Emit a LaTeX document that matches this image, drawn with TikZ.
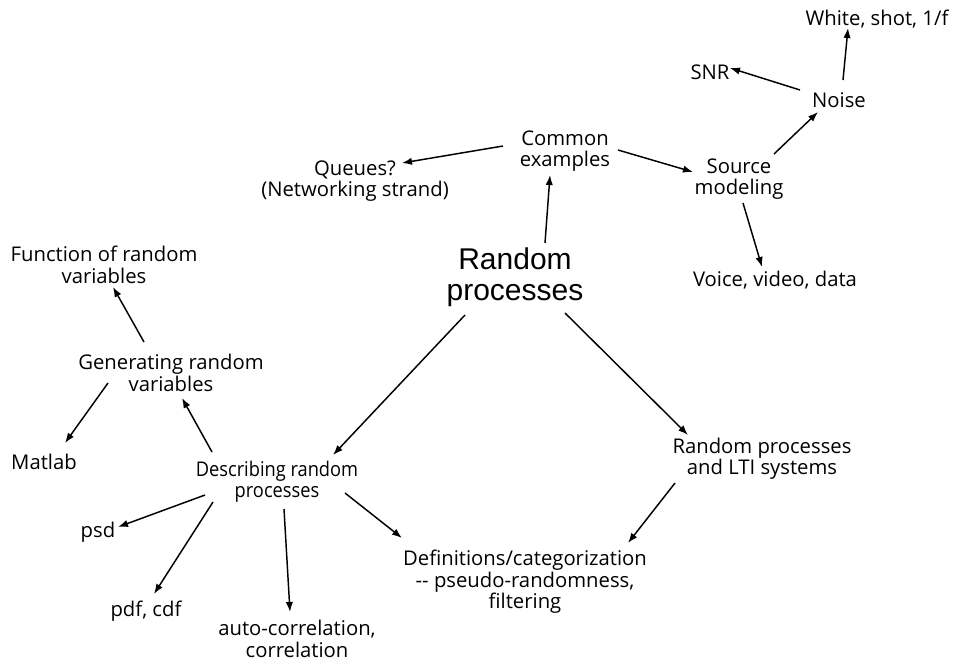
\documentclass[tikz,border=0pt]{standalone}
\usepackage{fontspec}
\setmainfont{Open Sans}
\newfontfamily\titlefont{Liberation Sans}
\newfontfamily\narrowfont[FakeStretch=0.9]{Open Sans}
\usetikzlibrary{arrows.meta}
\begin{document}
\begin{tikzpicture}[x=0.75pt,y=-0.75pt,
  topic/.style={inner sep=0pt,align=center,font=\fontsize{15.2}{16}\selectfont},
  narrowtopic/.style={inner sep=0pt,align=center,font=\narrowfont\fontsize{15.2}{16}\selectfont},
  hub/.style={inner sep=0pt,align=center,font=\titlefont\fontsize{22.5}{23}\selectfont},
  arr/.style={-{Latex[length=7.5pt,width=5.5pt]},line width=1.1pt}]
\useasboundingbox (0,0) rectangle (962,664);
% topics
\node[hub]   (rp)     at (515,277) {Random\\processes};
\node[topic] (white)  at (877,19)  {White, shot, 1/f};
\node[topic] (snr)    at (710,72)  {SNR};
\node[topic] (noise)  at (839,100) {Noise};
\node[topic] (common) at (565,151) {Common\\examples};
\node[topic] (queues) at (355,181) {Queues?\\(Networking strand)};
\node[topic] (source) at (739,179) {Source\\modeling};
\node[topic] (voice)  at (775,280) {Voice, video, data};
\node[topic] (func)   at (104,265) {Function of random\\variables};
\node[topic] (gen)    at (171,373) {Generating random\\variables};
\node[topic] (matlab) at (44,462)  {Matlab};
\node[narrowtopic] (desc) at (277,482) {Describing random\\processes};
\node[topic] (lti)    at (762,459) {Random processes\\and LTI systems};
\node[topic] (psd)    at (98,532)  {psd};
\node[topic] (pdf)    at (146,611) {pdf, cdf};
\node[topic] (auto)   at (297,639) {auto-correlation,\\correlation};
\node[topic] (defs)   at (525,582) {Definitions/categorization\\-{}- pseudo-randomness,\\filtering};
% links
\draw[arr] ([shift={(4,-20)}]noise.center)   -- ([shift={(-29,9)}]white.center);
\draw[arr] ([shift={(-39,-10)}]noise.center) -- ([shift={(20,-4)}]snr.center);
\draw[arr] ([shift={(35,-25)}]source.center) -- ([shift={(-21,12)}]noise.center);
\draw[arr] ([shift={(-62,-5)}]common.center) -- ([shift={(47,-18)}]queues.center);
\draw[arr] ([shift={(53,-1)}]common.center)  -- ([shift={(-46,-7)}]source.center);
\draw[arr] ([shift={(30,-34)}]rp.center)     -- ([shift={(-15,24)}]common.center);
\draw[arr] ([shift={(4,24)}]source.center)   -- ([shift={(-13,-13)}]voice.center);
\draw[arr] ([shift={(-50,38)}]rp.center)     -- ([shift={(56,-27)}]desc.center);
\draw[arr] ([shift={(50,36)}]rp.center)      -- ([shift={(-74,-24)}]lti.center);
\draw[arr] ([shift={(-27,-31)}]gen.center)   -- ([shift={(9,22)}]func.center);
\draw[arr] ([shift={(-63,10)}]gen.center)    -- ([shift={(21,-19)}]matlab.center);
\draw[arr] ([shift={(-65,-30)}]desc.center)  -- ([shift={(11,25)}]gen.center);
\draw[arr] ([shift={(-72,13)}]desc.center)   -- ([shift={(20,-5)}]psd.center);
\draw[arr] ([shift={(-64,20)}]desc.center)   -- ([shift={(8,-17)}]pdf.center);
\draw[arr] ([shift={(7,27)}]desc.center)     -- ([shift={(-7,-27)}]auto.center);
\draw[arr] ([shift={(68,11)}]desc.center)    -- ([shift={(-123,-44)}]defs.center);
\draw[arr] ([shift={(-87,24)}]lti.center)    -- ([shift={(103,-39)}]defs.center);
\end{tikzpicture}
\end{document}
